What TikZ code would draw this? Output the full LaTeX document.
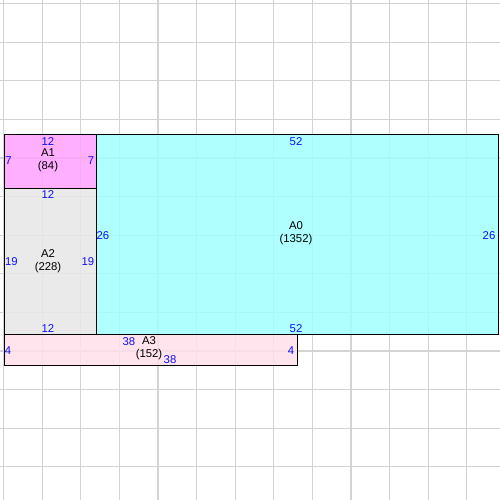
\documentclass[tikz,border=0pt]{standalone}
\usepackage{fontspec}
\setmainfont{Liberation Sans}
\definecolor{cA0}{HTML}{A2FFFF}
\definecolor{cA1}{HTML}{FFA2FF}
\definecolor{cA2}{HTML}{E7E7E7}
\definecolor{cA3}{HTML}{FFDFEB}
\definecolor{gridc}{HTML}{D3D3D3}
\definecolor{numc}{HTML}{1010F0}
\begin{document}
\begin{tikzpicture}[x=0.75pt,y=-0.75pt,
  num/.style={text=numc,font=\fontsize{8.5}{9}\selectfont,inner sep=0pt},
  lbl/.style={text=black,font=\fontsize{8.5}{10}\selectfont,inner sep=0pt,align=center},
  area/.style={draw=black,line width=0.75pt,fill opacity=0.85}]
\useasboundingbox (0,0) rectangle (500,500);
\fill[white] (0,0) rectangle (500,500);
% grid
\foreach \k in {0,...,12}{
  \draw[gridc,line width=0.9pt] ({3.5+38.6*\k},0) -- ({3.5+38.6*\k},500);
  \draw[gridc,line width=0.9pt] (0,{3.5+38.6*\k}) -- (500,{3.5+38.6*\k});
}
% areas
\filldraw[area,fill=cA0] (96.6,134) rectangle (498,334.7);
\filldraw[area,fill=cA1] (4,134) rectangle (96.6,188);
\filldraw[area,fill=cA2] (4,188) rectangle (96.6,334.7);
\filldraw[area,fill=cA3] (4,334.7) rectangle (297.4,365.6);
% A1 labels
\node[num] (a1t) at (48,141.5) {12};
\node[lbl] (a1) at (48,160) {A1\\(84)};
\node[num] (a1l) at (8.5,161) {7};
\node[num] (a1r) at (91,161) {7};
% A2 labels
\node[num] (a2t) at (48,195) {12};
\node[lbl] (a2) at (48,261) {A2\\(228)};
\node[num] (a2l) at (11.5,262) {19};
\node[num] (a2r) at (88,262) {19};
\node[num] (a2b) at (48,328.5) {12};
% A0 labels
\node[num] (a0t) at (296,141.5) {52};
\node[lbl] (a0) at (296,233) {A0\\(1352)};
\node[num] (a0l) at (103,236) {26};
\node[num] (a0r) at (489,236) {26};
\node[num] (a0b) at (296,328.5) {52};
% A3 labels
\node[num] (a3t) at (129,342) {38};
\node[lbl] (a3) at (149,348) {A3\\(152)};
\node[num] (a3b) at (170,360) {38};
\node[num] (a3l) at (8,351) {4};
\node[num] (a3r) at (291,351) {4};
\end{tikzpicture}
\end{document}
